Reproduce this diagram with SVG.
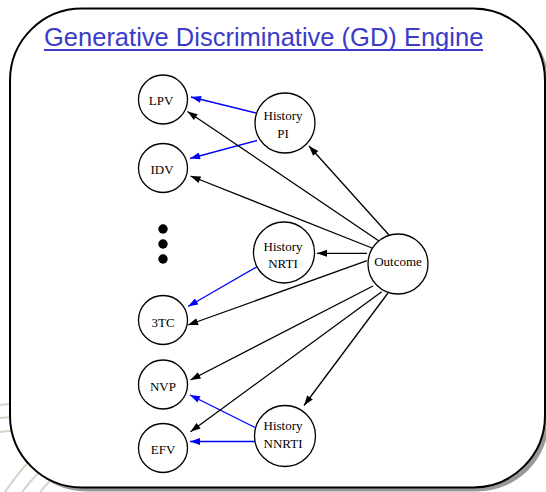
<svg xmlns="http://www.w3.org/2000/svg" width="546" height="492" viewBox="0 0 546 492">
  <style>
    .node circle { fill: #ffffff; stroke: #000000; stroke-width: 1.3; }
    .node text { font-family: "Liberation Serif", "Times New Roman", serif; font-size: 13px; fill: #000000; text-anchor: middle; }
    .edge { stroke: #000000; stroke-width: 1.3; fill: none; marker-end: url(#arrow-black); }
    .edge.blue { stroke: #0000ff; marker-end: url(#arrow-blue); }
    .title { font-family: "Liberation Sans", Arial, sans-serif; font-size: 25.5px; fill: #3b3bc9; }
    .seal { fill: none; stroke: #d4d4c6; stroke-width: 2; }
  </style>
  <defs>
    <marker id="arrow-black" viewBox="0 0 10 7" refX="10" refY="3.5" markerWidth="11" markerHeight="7" markerUnits="userSpaceOnUse" orient="auto">
      <path d="M0,0 L10,3.5 L0,7 Z" fill="#000000"/>
    </marker>
    <marker id="arrow-blue" viewBox="0 0 10 7" refX="10" refY="3.5" markerWidth="11" markerHeight="7" markerUnits="userSpaceOnUse" orient="auto">
      <path d="M0,0 L10,3.5 L0,7 Z" fill="#0000ff"/>
    </marker>
  </defs>

  <!-- faint seal behind the panel, lower left -->
  <g id="seal">
    <path class="seal" d="M0,405 Q30,400 60,420"/>
    <path class="seal" d="M0,418 Q28,414 52,430"/>
    <path class="seal" d="M0,432 Q20,428 40,440"/>
    <path class="seal" d="M5,492 Q20,470 35,455"/>
    <path class="seal" d="M22,492 Q35,475 50,462"/>
    <path class="seal" d="M40,492 Q50,480 60,472"/>
  </g>

  <!-- rounded panel with drop shadow -->
  <g id="panel">
    <rect x="14" y="12.5" width="535" height="479" rx="72" ry="72" fill="#999999"/>
    <rect x="10" y="8.5" width="535" height="479" rx="72" ry="72" fill="#ffffff" stroke="#000000" stroke-width="2"/>
  </g>

  <!-- heading -->
  <g id="title">
    <text class="title" x="44" y="46">Generative Discriminative (GD) Engine</text>
    <line x1="44" y1="50" x2="483" y2="50" stroke="#3b3bc9" stroke-width="2"/>
  </g>

  <!-- connectors -->
  <g id="edges">
    <line class="edge blue" x1="256" y1="113" x2="191" y2="97"/>
    <line class="edge blue" x1="257" y1="140.5" x2="190" y2="158.5"/>
    <line class="edge blue" x1="257.5" y1="266.5" x2="188" y2="306.5"/>
    <line class="edge blue" x1="255" y1="427.5" x2="190" y2="395"/>
    <line class="edge blue" x1="255" y1="441.5" x2="190" y2="441.5"/>

    <line class="edge" x1="379" y1="241" x2="187.5" y2="111.5"/>
    <line class="edge" x1="372" y1="248" x2="190.5" y2="176"/>
    <line class="edge" x1="389" y1="235" x2="309" y2="146"/>
    <line class="edge" x1="367" y1="253.3" x2="317" y2="253.3"/>
    <line class="edge" x1="367" y1="260.7" x2="188" y2="325"/>
    <line class="edge" x1="373" y1="286" x2="190.5" y2="380"/>
    <line class="edge" x1="381.7" y1="291.7" x2="190.5" y2="431.7"/>
    <line class="edge" x1="388" y1="293" x2="304" y2="405.5"/>
  </g>

  <!-- nodes -->
  <g id="node-lpv" class="node">
    <circle cx="163" cy="99.5" r="24.5"/>
    <text x="161" y="105">LPV</text>
  </g>
  <g id="node-idv" class="node">
    <circle cx="163" cy="168" r="24.5"/>
    <text x="162" y="174">IDV</text>
  </g>
  <g id="node-more">
    <circle cx="163" cy="229" r="4.7" fill="#000000"/>
    <circle cx="163" cy="244" r="4.7" fill="#000000"/>
    <circle cx="163" cy="259" r="4.7" fill="#000000"/>
  </g>
  <g id="node-3tc" class="node">
    <circle cx="163" cy="320" r="24.5"/>
    <text x="163" y="326.5">3TC</text>
  </g>
  <g id="node-nvp" class="node">
    <circle cx="163" cy="384.5" r="24.5"/>
    <text x="163" y="390.5">NVP</text>
  </g>
  <g id="node-efv" class="node">
    <circle cx="163" cy="448" r="24.5"/>
    <text x="163" y="454.3">EFV</text>
  </g>
  <g id="node-history-pi" class="node">
    <circle cx="285" cy="123" r="30"/>
    <text x="283" y="120">History</text>
    <text x="283" y="138">PI</text>
  </g>
  <g id="node-history-nrti" class="node">
    <circle cx="284" cy="252.5" r="30.5"/>
    <text x="283" y="250.5">History</text>
    <text x="283" y="268">NRTI</text>
  </g>
  <g id="node-outcome" class="node">
    <circle cx="398" cy="264" r="30"/>
    <text x="398" y="266">Outcome</text>
  </g>
  <g id="node-history-nnrti" class="node">
    <circle cx="285" cy="436" r="30.5"/>
    <text x="283" y="430">History</text>
    <text x="283" y="447.5">NNRTI</text>
  </g>
</svg>
